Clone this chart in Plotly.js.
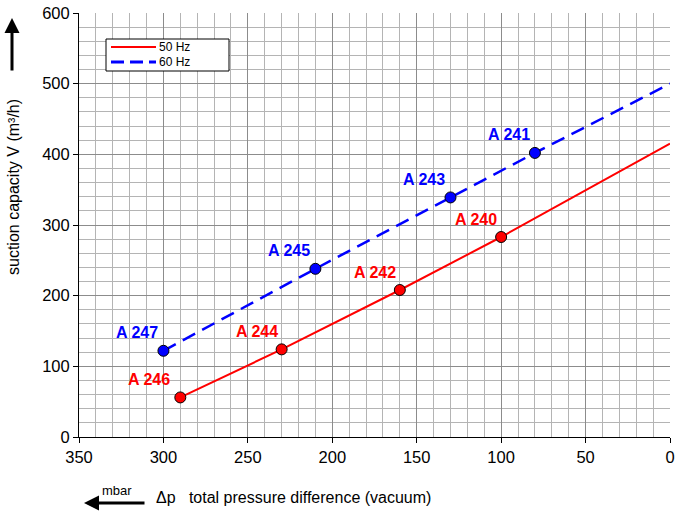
<!DOCTYPE html>
<html><head><meta charset="utf-8">
<script src="https://cdn.plot.ly/plotly-3.0.1.min.js"></script>
<style>html,body{margin:0;padding:0;background:#fff}</style>
</head><body>
<div id="chart" style="width:676px;height:513px"></div>
<script>
// 50 Hz series
const hz50_x = [290, 230, 160, 100, 0];
const hz50_y = [56, 124, 208, 283, 415];
const hz50_pts_x = [290, 230, 160, 100];
const hz50_pts_y = [56, 124, 208, 283];
const hz50_labels = ['A 246', 'A 244', 'A 242', 'A 240'];
// 60 Hz series
const hz60_x = [300, 210, 130, 80, 0];
const hz60_y = [122, 238, 339, 402, 500];
const hz60_pts_x = [300, 210, 130, 80];
const hz60_pts_y = [122, 238, 339, 402];
const hz60_labels = ['A 247', 'A 245', 'A 243', 'A 241'];
const seriesNames = ['50 Hz', '60 Hz'];
const xTicks = [350, 300, 250, 200, 150, 100, 50, 0];
const yTicks = [0, 100, 200, 300, 400, 500, 600];

const FONT = 'Liberation Sans, Arial, sans-serif';
const RED = '#ff0000', BLUE = '#0000ff';
const traces = [
  {x: hz50_x, y: hz50_y, mode: 'lines', name: seriesNames[0], line: {color: RED, width: 2}},
  {x: hz60_x, y: hz60_y, mode: 'lines', name: seriesNames[1], line: {color: BLUE, width: 2.5, dash: '14px,8px'}},
  {x: hz50_pts_x, y: hz50_pts_y, mode: 'markers', showlegend: false,
   marker: {color: RED, size: 11, line: {color: '#000', width: 1}}},
  {x: hz60_pts_x, y: hz60_pts_y, mode: 'markers', showlegend: false,
   marker: {color: BLUE, size: 11, line: {color: '#000', width: 1}}}
];

const ann = [];
hz50_labels.forEach((t, i) => ann.push({x: hz50_pts_x[i], y: hz50_pts_y[i], text: '<b>' + t + '</b>', showarrow: false,
  xshift: i === 0 ? -31 : -25, yshift: 18, font: {family: FONT, size: 16, color: RED}}));
hz60_labels.forEach((t, i) => ann.push({x: hz60_pts_x[i], y: hz60_pts_y[i], text: '<b>' + t + '</b>', showarrow: false,
  xshift: -26, yshift: 18, font: {family: FONT, size: 16, color: BLUE}}));

const L = 79, R = 6, T = 13, B = 76;
const W = 676 - L - R, H = 513 - T - B;
function px(x) { return (x - L) / W; }
function py(y) { return (513 - B - y) / H; }
// y title and arrow
ann.push({xref: 'paper', yref: 'paper', x: px(14), y: py(187), xanchor: 'center', yanchor: 'middle',
  text: 'suction capacity V (m³/h)', textangle: -90,
  showarrow: false, font: {family: FONT, size: 16, color: '#000'}});
ann.push({xref: 'paper', yref: 'paper', x: px(12), y: py(18), ax: 0, ay: 54, text: '', showarrow: true,
  arrowhead: 2, arrowsize: 1, arrowwidth: 3, arrowcolor: '#000'});
// x title and arrow
ann.push({xref: 'paper', yref: 'paper', x: px(84), y: py(503), ax: 62, ay: 0, text: '', showarrow: true,
  arrowhead: 2, arrowsize: 1, arrowwidth: 3, arrowcolor: '#000'});
ann.push({xref: 'paper', yref: 'paper', x: px(117), y: py(491), xanchor: 'center', yanchor: 'middle',
  text: 'mbar', showarrow: false, font: {family: FONT, size: 13, color: '#000'}});
ann.push({xref: 'paper', yref: 'paper', x: px(154), y: py(497), xanchor: 'left', yanchor: 'middle',
  text: 'Δp&nbsp;&nbsp;&nbsp;total pressure difference (vacuum)', showarrow: false,
  font: {family: FONT, size: 16, color: '#000'}});
// legend texts
ann.push({xref: 'paper', yref: 'paper', x: px(157), y: py(47), xanchor: 'left', yanchor: 'middle',
  text: seriesNames[0], showarrow: false, font: {family: FONT, size: 12, color: '#000'}});
ann.push({xref: 'paper', yref: 'paper', x: px(157), y: py(62), xanchor: 'left', yanchor: 'middle',
  text: seriesNames[1], showarrow: false, font: {family: FONT, size: 12, color: '#000'}});

const shapes = [
  {type: 'rect', xref: 'paper', yref: 'paper', x0: px(106), x1: px(229), y0: py(39), y1: py(71),
    fillcolor: '#fff', line: {color: '#000', width: 1}, layer: 'above'},
  {type: 'line', xref: 'paper', yref: 'paper', x0: px(111), x1: px(156), y0: py(47), y1: py(47),
    line: {color: RED, width: 2}, layer: 'above'},
  {type: 'line', xref: 'paper', yref: 'paper', x0: px(111), x1: px(156), y0: py(62), y1: py(62),
    line: {color: BLUE, width: 3, dash: '13px,6px'}, layer: 'above'}
];

const layout = {
  width: 676, height: 513,
  margin: {l: L, r: R, t: T, b: B},
  paper_bgcolor: '#fff', plot_bgcolor: '#fff',
  font: {family: FONT, size: 16, color: '#000'},
  showlegend: false,
  shapes: shapes,
  xaxis: {range: [350, 0], tickvals: xTicks, ticks: 'outside', ticklen: 5, tickcolor: '#000',
    showline: true, linecolor: '#000', linewidth: 1, mirror: false, zeroline: false,
    showgrid: true, gridcolor: '#8c8c8c', gridwidth: 1, ticklabeloverflow: 'allow',
    minor: {dtick: 10, showgrid: true, gridcolor: '#b4b4b4', gridwidth: 1},
    tickfont: {family: FONT, size: 16.5}},
  yaxis: {range: [0, 600], tickvals: yTicks, ticks: 'outside', ticklen: 5, tickcolor: '#000',
    showline: true, linecolor: '#000', linewidth: 1, zeroline: false,
    showgrid: true, gridcolor: '#8c8c8c', gridwidth: 1,
    minor: {dtick: 20, showgrid: true, gridcolor: '#b4b4b4', gridwidth: 1},
    tickfont: {family: FONT, size: 16.5}},
  annotations: ann
};
Plotly.newPlot('chart', traces, layout, {displayModeBar: false, staticPlot: true});
</script>
</body></html>
